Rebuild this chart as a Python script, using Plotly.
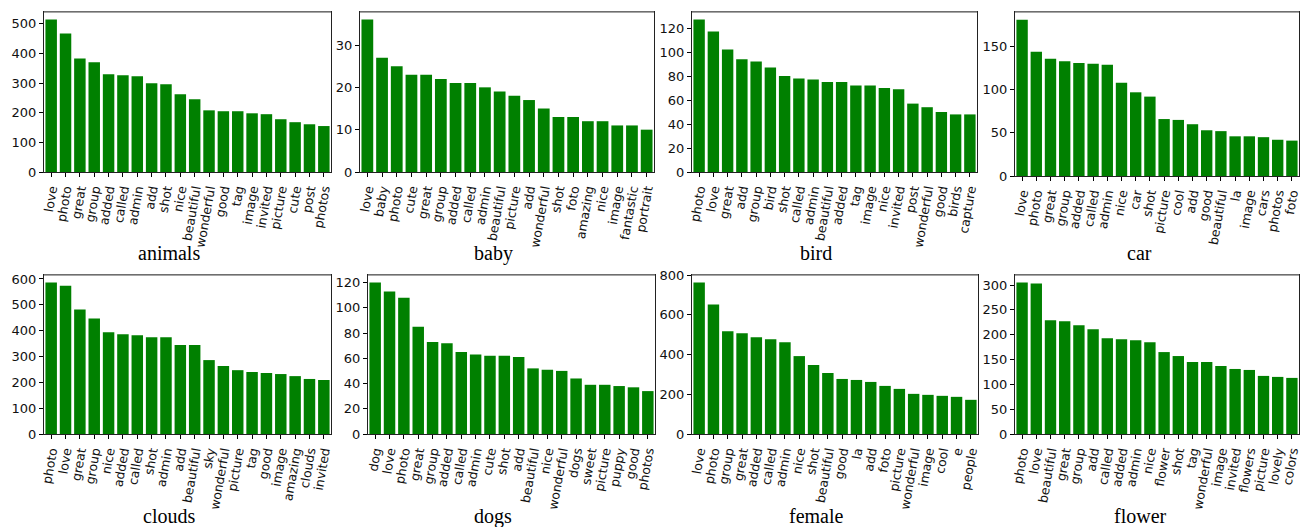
import plotly.graph_objects as go

W, H = 1301, 527

titles = ["animals", "baby", "bird", "car", "clouds", "dogs", "female", "flower"]

animals_words = ["love", "photo", "great", "group", "added", "called", "admin", "add", "shot", "nice",
                 "beautiful", "wonderful", "good", "tag", "image", "invited", "picture", "cute", "post", "photos"]
animals_counts = [514, 467, 383, 370, 330, 326, 323, 299, 296, 262, 245, 208, 205, 205, 198, 195, 178, 168, 161, 155]

baby_words = ["love", "baby", "photo", "cute", "great", "group", "added", "called", "admin", "beautiful",
              "picture", "add", "wonderful", "shot", "foto", "amazing", "nice", "image", "fantastic", "portrait"]
baby_counts = [36, 27, 25, 23, 23, 22, 21, 21, 20, 19, 18, 17, 15, 13, 13, 12, 12, 11, 11, 10]

bird_words = ["photo", "love", "great", "add", "group", "bird", "shot", "called", "admin", "beautiful",
              "added", "tag", "image", "nice", "invited", "post", "wonderful", "good", "birds", "capture"]
bird_counts = [127, 117, 102, 94, 92, 87, 80, 78, 77, 75, 75, 72, 72, 70, 69, 57, 54, 50, 48, 48]

car_words = ["love", "photo", "great", "group", "added", "called", "admin", "nice", "car", "shot",
             "picture", "cool", "add", "good", "beautiful", "la", "image", "cars", "photos", "foto"]
car_counts = [181, 144, 136, 133, 131, 130, 129, 108, 97, 92, 66, 65, 60, 53, 52, 46, 46, 45, 42, 41]

clouds_words = ["photo", "love", "great", "group", "nice", "added", "called", "shot", "admin", "add",
                "beautiful", "sky", "wonderful", "picture", "tag", "good", "image", "amazing", "clouds", "invited"]
clouds_counts = [586, 574, 482, 447, 394, 386, 382, 374, 374, 344, 344, 286, 263, 247, 240, 236, 232, 224, 213, 209]

dogs_words = ["dog", "love", "photo", "great", "group", "added", "called", "admin", "cute", "shot",
              "add", "beautiful", "nice", "wonderful", "dogs", "sweet", "picture", "puppy", "good", "photos"]
dogs_counts = [120, 113, 108, 85, 73, 72, 65, 63, 62, 62, 61, 52, 51, 50, 44, 39, 39, 38, 37, 34]

female_words = ["love", "photo", "group", "great", "added", "called", "admin", "nice", "shot", "beautiful",
                "good", "la", "add", "foto", "picture", "wonderful", "image", "cool", "e", "people"]
female_counts = [762, 652, 517, 507, 487, 477, 462, 392, 347, 307, 277, 272, 262, 242, 227, 202, 197, 192, 187, 172]

flower_words = ["photo", "love", "beautiful", "great", "group", "add", "called", "added", "admin", "nice",
                "flower", "shot", "tag", "wonderful", "image", "invited", "flowers", "picture", "lovely", "colors"]
flower_counts = [305, 303, 229, 227, 219, 211, 193, 191, 189, 185, 165, 157, 145, 145, 137, 131, 129, 117, 115, 113]

words = [animals_words, baby_words, bird_words, car_words, clouds_words, dogs_words, female_words, flower_words]
counts = [animals_counts, baby_counts, bird_counts, car_counts, clouds_counts, dogs_counts, female_counts, flower_counts]
y_steps = [100, 10, 20, 50, 100, 20, 200, 50]

# panel pixel boxes (left, right, top, bottom)
boxes = [(44, 331, 12, 172), (360, 654, 12, 172), (692, 977, 12, 172), (1015, 1299, 12, 176),
         (44, 331, 275, 434), (368, 655, 275, 434), (692, 978, 275, 434), (1015, 1299, 275, 434)]
title_pos = [(169, 253), (493, 253), (816, 253), (1139, 253),
             (169, 516), (493, 516), (816, 516), (1140, 516)]

fig = go.Figure()
layout = dict(width=W, height=H, margin=dict(l=0, r=0, t=0, b=0, autoexpand=False),
              plot_bgcolor="white", paper_bgcolor="white", showlegend=False,
              bargap=0.2, shapes=[], annotations=[])

tick_font_x = dict(family="DejaVu Sans", size=12.5, color="#111")
tick_font_y = dict(family="DejaVu Sans", size=13, color="#111")

for i in range(8):
    n = "" if i == 0 else str(i + 1)
    l, r, t, b = boxes[i]
    fig.add_trace(go.Bar(x=words[i], y=counts[i], marker=dict(color="#008000", line=dict(width=0)),
                         xaxis="x" + n, yaxis="y" + n, hoverinfo="x+y"))
    ymax = max(counts[i]) * 1.05
    layout["xaxis" + n] = dict(domain=[l / W, r / W], anchor="y" + n, type="category",
                               range=[-0.5, len(words[i]) - 0.5],
                               tickmode="linear", tick0=0, dtick=1,
                               tickangle=-80, ticks="outside", ticklen=4, tickcolor="#000",
                               tickfont=tick_font_x, automargin=False,
                               showline=True, linecolor="#222", linewidth=1.2, mirror=True,
                               showgrid=False, zeroline=False, fixedrange=True)
    layout["yaxis" + n] = dict(domain=[1 - b / H, 1 - t / H], anchor="x" + n,
                               range=[0, ymax], dtick=y_steps[i], tick0=0,
                               ticks="outside", ticklen=4, tickcolor="#000",
                               tickfont=tick_font_y, automargin=False,
                               showline=True, linecolor="#222", linewidth=1.2, mirror=True,
                               showgrid=False, zeroline=False, fixedrange=True)
    # lighter top spine, as in the reference
    layout["shapes"].append(dict(type="line", xref="paper", yref="paper",
                                 x0=l / W, x1=r / W, y0=1 - t / H, y1=1 - t / H,
                                 line=dict(color="#888", width=1.5)))
    tx, ty = title_pos[i]
    layout["annotations"].append(dict(text=titles[i], xref="paper", yref="paper",
                                      x=tx / W, y=1 - ty / H, xanchor="center", yanchor="middle",
                                      showarrow=False,
                                      font=dict(family="Liberation Serif", size=20, color="#000")))

fig.update_layout(**layout)
fig.write_html("out.html", config={"displayModeBar": False},
               post_script="document.body.style.margin='0px';")
